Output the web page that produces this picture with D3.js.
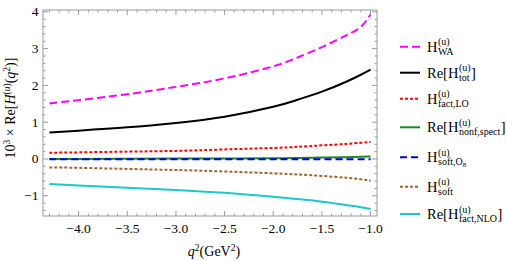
<!DOCTYPE html>
<html>
<head>
<meta charset="UTF-8">
<script src="https://d3js.org/d3.v7.min.js"></script>
</head>
<body style="margin:0">
<script>
    // q^2 grid (GeV^2) and the curves (values x 10^3)
    const q2 = [-4.3, -4.0, -3.5, -3.0, -2.5, -2.0, -1.75, -1.5, -1.25, -1.1, -1.0];
    const hWA       = [1.51, 1.60, 1.76, 1.96, 2.19, 2.52, 2.76, 3.04, 3.36, 3.59, 3.93];
    const hTot      = [0.72, 0.77, 0.86, 0.98, 1.15, 1.42, 1.61, 1.83, 2.10, 2.29, 2.43];
    const hFactLO   = [0.17, 0.18, 0.20, 0.22, 0.26, 0.30, 0.33, 0.37, 0.41, 0.44, 0.46];
    const hNonfSpec = [0.00, 0.00, 0.005, 0.01, 0.015, 0.02, 0.03, 0.04, 0.05, 0.06, 0.07];
    const hSoftO8   = [-0.005, -0.005, -0.005, -0.005, -0.005, -0.005, -0.005, -0.005, -0.005, -0.005, -0.005];
    const hSoft     = [-0.23, -0.24, -0.27, -0.30, -0.34, -0.39, -0.42, -0.46, -0.51, -0.55, -0.59];
    const hFactNLO  = [-0.68, -0.72, -0.78, -0.84, -0.92, -1.03, -1.09, -1.16, -1.25, -1.31, -1.36];

    const xTicks = [-4.0, -3.5, -3.0, -2.5, -2.0, -1.5, -1.0];
    const yTicks = [-1, 0, 1, 2, 3, 4];

    const series = [
        { values: hWA,       color: "#ff00ff", dash: "8,4",   pre: "H",    sub: [["WA", 0]],                 post: "" },
        { values: hTot,      color: "#000000", dash: null,    pre: "Re[H", sub: [["tot", 0]],                post: "]" },
        { values: hFactLO,   color: "#ff0000", dash: "3,2",   pre: "H",    sub: [["fact,LO", 0]],            post: "" },
        { values: hNonfSpec, color: "#1a8c1a", dash: null,    pre: "Re[H", sub: [["nonf,spect", 0]],         post: "]" },
        { values: hSoftO8,   color: "#0000e0", dash: "7,4",   pre: "H",    sub: [["soft,O", 0], ["8", 2]],   post: "" },
        { values: hSoft,     color: "#a0662e", dash: "3,2",   pre: "H",    sub: [["soft", 0]],               post: "" },
        { values: hFactNLO,  color: "#1cc8c8", dash: null,    pre: "Re[H", sub: [["fact,NLO", 0]],           post: "]" }
    ];
    // legend rows (vertical centres of the line samples)
    const legendY = [46.7, 72.7, 98.7, 127.3, 157.3, 186.7, 214];

    const W = 506, H = 261;
    const frame = { left: 43, right: 377, top: 10, bottom: 216 };
    const serif = "Liberation Serif";

    const svg = d3.select("body").append("svg")
        .attr("width", W).attr("height", H)
        .attr("font-family", serif);

    // every text node gets the serif family directly
    const addText = (g) => g.append("text").attr("font-family", serif);

    const x = d3.scaleLinear().domain([-4.366, -0.934]).range([frame.left, frame.right]);
    const y = d3.scaleLinear().domain([-1.55, 4.05]).range([frame.bottom, frame.top]);

    const frameColor = "#9a9a9a";

    // curves
    const line = d3.line()
        .x((d, i) => x(q2[i]))
        .y(d => y(d))
        .curve(d3.curveNatural);

    const plot = svg.append("g");
    plot.append("clipPath").attr("id", "clip").append("rect")
        .attr("x", frame.left).attr("y", frame.top)
        .attr("width", frame.right - frame.left).attr("height", frame.bottom - frame.top);

    series.forEach(s => {
        plot.append("path")
            .datum(s.values)
            .attr("clip-path", "url(#clip)")
            .attr("fill", "none")
            .attr("stroke", s.color)
            .attr("stroke-width", 2)
            .attr("stroke-dasharray", s.dash)
            .attr("d", line);
    });

    // frame with inward ticks on all four sides
    const ax = svg.append("g");
    ax.append("rect")
        .attr("x", frame.left).attr("y", frame.top)
        .attr("width", frame.right - frame.left).attr("height", frame.bottom - frame.top)
        .attr("fill", "none").attr("stroke", frameColor).attr("stroke-width", 1);

    const xMinor = d3.range(-43, -9).map(v => v / 10);
    xMinor.forEach(v => {
        const major = xTicks.some(t => Math.abs(t - v) < 1e-9);
        const len = major ? 5 : 2.5;
        const px = x(v);
        ax.append("line").attr("x1", px).attr("x2", px)
            .attr("y1", frame.bottom).attr("y2", frame.bottom - len)
            .attr("stroke", frameColor);
        ax.append("line").attr("x1", px).attr("x2", px)
            .attr("y1", frame.top).attr("y2", frame.top + len)
            .attr("stroke", frameColor);
    });

    const yMinor = d3.range(-7, 21).map(v => v / 5);
    yMinor.forEach(v => {
        const major = yTicks.some(t => Math.abs(t - v) < 1e-9);
        const len = major ? 5 : 2.5;
        const py = y(v);
        ax.append("line").attr("x1", frame.left).attr("x2", frame.left + len)
            .attr("y1", py).attr("y2", py).attr("stroke", frameColor);
        ax.append("line").attr("x1", frame.right).attr("x2", frame.right - len)
            .attr("y1", py).attr("y2", py).attr("stroke", frameColor);
    });

    const fmtX = v => (v < 0 ? "\u2212" : "") + Math.abs(v).toFixed(1);
    xTicks.forEach(v => {
        addText(ax)
            .attr("x", x(v)).attr("y", 233)
            .attr("text-anchor", "middle")
            .attr("font-size", 13.5)
            .text(fmtX(v));
    });
    yTicks.forEach(v => {
        addText(ax)
            .attr("x", 38.5).attr("y", y(v) + 4.5)
            .attr("text-anchor", "end")
            .attr("font-size", 13.5)
            .text(v < 0 ? "\u2212" + Math.abs(v) : v);
    });

    // axis titles
    const xl = addText(svg)
        .attr("x", 214).attr("y", 256)
        .attr("text-anchor", "middle")
        .attr("font-size", 14);
    xl.append("tspan").attr("font-style", "italic").text("q");
    xl.append("tspan").attr("dy", -5).attr("font-size", 9.5).text("2");
    xl.append("tspan").attr("dy", 5).text("(GeV");
    xl.append("tspan").attr("dy", -5).attr("font-size", 9.5).text("2");
    xl.append("tspan").attr("dy", 5).text(")");

    const yl = addText(svg)
        .attr("transform", "translate(15,108) rotate(-90)")
        .attr("text-anchor", "middle")
        .attr("font-size", 14);
    yl.append("tspan").text("10");
    yl.append("tspan").attr("dy", -5).attr("font-size", 9.5).text("3");
    yl.append("tspan").attr("dy", 5).text(" \u00d7 Re[");
    yl.append("tspan").attr("font-style", "italic").text("H");
    yl.append("tspan").attr("dy", -5).attr("font-size", 9.5).text("(");
    yl.append("tspan").attr("font-size", 9.5).attr("font-style", "italic").text("u");
    yl.append("tspan").attr("font-size", 9.5).text(")");
    yl.append("tspan").attr("dy", 5).text("(");
    yl.append("tspan").attr("font-style", "italic").text("q");
    yl.append("tspan").attr("dy", -5).attr("font-size", 9.5).text("2");
    yl.append("tspan").attr("dy", 5).text(")]");

    // legend
    const lg = svg.append("g");
    series.forEach((s, i) => {
        const cy = legendY[i];
        lg.append("line")
            .attr("x1", 400).attr("x2", 420)
            .attr("y1", cy).attr("y2", cy)
            .attr("stroke", s.color).attr("stroke-width", 2)
            .attr("stroke-dasharray", s.dash);

        const tx = 427, base = cy + 5;
        const pre = addText(lg).attr("x", tx).attr("y", base)
            .attr("font-size", 14.5).text(s.pre);
        const preW = pre.node().getComputedTextLength();

        const sup = addText(lg).attr("x", tx + preW + 0.5).attr("y", base - 6.5)
            .attr("font-size", 10).text("(u)");
        const sub = addText(lg).attr("x", tx + preW + 0.5).attr("y", base + 3)
            .attr("font-size", 10);
        s.sub.forEach(([t, dy]) => {
            const ts = sub.append("tspan").attr("dy", dy).text(t);
            if (dy) ts.attr("font-size", 7);
        });
        const w = Math.max(sup.node().getComputedTextLength(), sub.node().getComputedTextLength());
        if (s.post) {
            addText(lg).attr("x", tx + preW + w + 1).attr("y", base)
                .attr("font-size", 14.5).text(s.post);
        }
    });
</script>
</body>
</html>
